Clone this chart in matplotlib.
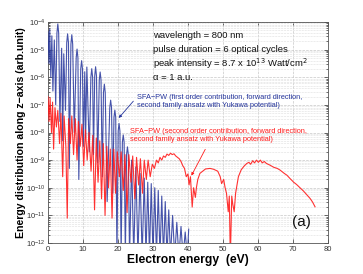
import numpy as np
import matplotlib
matplotlib.use("Agg")
import matplotlib.pyplot as plt
from matplotlib.ticker import LogLocator, MultipleLocator, NullFormatter, FixedLocator

blue_e = [0.0, 0.3, 0.5, 0.8, 1.1, 1.4, 1.8, 2.2, 2.55, 2.8, 3.05, 3.4, 3.9, 4.2,
          4.5, 5.0, 5.35, 5.6, 5.85, 6.1, 6.55, 6.8, 7.05, 7.5, 8.05, 8.3, 8.55,
          8.8, 9.35, 9.6, 9.85, 10.1, 10.5, 10.75, 11.1, 11.8, 12.25, 12.5, 12.75,
          13.0, 13.35, 13.6, 13.85, 14.2, 14.65, 14.9, 15.15, 15.5, 15.85, 16.1,
          16.35, 16.9, 17.65, 17.9, 18.15, 18.5, 18.85, 19.1, 19.35, 19.7, 20.05,
          20.3, 20.55, 20.9, 21.25, 21.5, 21.75, 22.1, 22.45, 22.7, 22.95, 23.3,
          23.9, 24.5, 25.1, 25.7, 26.3, 26.9, 27.5, 28.0, 28.5, 29.0, 29.5, 30.0,
          30.5, 31.0, 31.5, 32.0, 32.5, 33.0, 33.5, 34.0, 34.5, 35.0, 35.6, 36.2,
          36.8, 37.4, 38.0, 38.6, 39.2, 39.8, 40.2]
blue_log = [-4.35, -5.5, -4.25, -6.0, -4.5, -6.5, -4.65, -7.0, -4.4, -4.07, -4.4,
            -7.6, -4.95, -8.3, -5.15, -7.2, -4.75, -4.43, -4.75, -9.3, -4.8, -4.46,
            -4.8, -8.0, -5.3, -4.98, -5.3, -9.7, -5.7, -5.4, -5.7, -8.5, -5.8, -8.2,
            -5.63, -8.7, -6.0, -5.69, -6.0, -8.8, -5.95, -5.62, -5.95, -9.1, -6.1,
            -5.81, -6.1, -9.6, -6.55, -6.25, -6.55, -10.5, -7.1, -6.83, -7.1, -10.2,
            -7.45, -7.19, -7.45, -12.5, -7.95, -7.67, -7.95, -12.5, -8.35, -8.09,
            -8.35, -12.5, -8.8, -8.52, -8.8, -12.5, -9.0, -12.5, -9.25, -12.5,
            -9.48, -12.5, -9.65, -12.5, -9.8, -12.5, -9.85, -12.5, -10.0, -12.5,
            -10.1, -12.5, -10.3, -12.5, -10.5, -12.5, -10.8, -12.5, -11.0, -12.5,
            -11.25, -12.5, -11.4, -12.5, -11.6, -12.5, -11.5]

# second order (red)
red_e = [0.0, 0.3, 0.6, 1.0, 1.3, 1.6, 2.0, 2.4, 2.8, 3.3, 3.7, 4.2, 4.6, 5.1,
         5.5, 5.9, 6.4, 6.8, 7.3, 7.8, 8.3, 8.7, 9.2, 9.7, 10.2, 10.7, 11.2, 11.7,
         12.3, 12.8, 13.3, 13.8, 14.3, 14.8, 15.3, 15.8, 16.3, 16.8, 17.3, 17.8,
         18.3, 18.8, 19.3, 19.8, 20.4, 20.9, 21.5, 22.0, 22.6, 23.1, 23.7, 24.2,
         24.8, 25.3, 25.9, 26.4, 27.0, 27.5, 28.1, 28.6, 29.2, 29.8, 30.4, 31.0,
         31.5, 32.0, 32.5, 33.0, 33.5, 34.0, 34.5, 35.0, 35.5, 36.0, 36.5, 37.0,
         37.5, 38.0, 38.5, 39.0, 39.5, 40.0, 40.3, 40.7, 41.2, 41.6, 42.1, 42.4,
         42.8, 43.4, 44.2, 45.0, 46.3, 47.3, 48.5, 49.2, 49.6, 50.2, 50.6, 51.0,
         51.5, 51.8, 52.1, 52.5, 52.8, 53.2, 53.6, 54.4, 55.2, 56.0, 56.8, 57.4,
         57.9, 58.5, 59.0, 59.6, 60.1, 60.7, 61.2, 61.8, 62.4, 63.4, 64.5, 65.5,
         66.3, 67.5, 68.3, 69.1, 70.2, 71.0, 72.0, 73.0, 73.9, 74.9, 75.6, 76.3]
red_log = [-6.7, -7.6, -6.75, -8.0, -6.9, -8.6, -7.1, -7.8, -7.2, -8.4, -7.3, -9.6,
           -7.4, -8.5, -11.1, -7.5, -8.4, -7.4, -8.8, -7.5, -9.0, -7.6, -8.5, -7.7,
           -9.2, -7.9, -9.0, -8.0, -9.4, -8.1, -10.8, -8.2, -9.8, -8.3, -10.4, -8.4,
           -11.0, -8.5, -10.0, -8.6, -11.1, -8.6, -10.2, -8.7, -9.6, -8.7, -10.1,
           -8.8, -10.9, -8.8, -9.8, -8.85, -10.4, -8.9, -9.9, -8.95, -10.2, -9.0,
           -9.7, -9.0, -9.6, -9.15, -9.3, -9.0, -9.1, -8.9, -9.0, -8.85, -8.9,
           -8.78, -8.83, -8.75, -8.8, -8.77, -8.85, -8.9, -8.95, -9.05, -9.2,
           -9.3, -9.6, -9.5, -9.9, -9.6, -10.7, -10.0, -10.35, -10.0, -9.7, -9.48,
           -9.4, -9.32, -9.3, -9.33, -9.4, -9.6, -9.85, -9.7, -10.0, -10.2,
           -10.87, -10.3, -12.6, -10.3, -10.6, -10.87, -10.2, -9.6, -9.35, -9.22,
           -9.12, -9.08, -9.15, -9.02, -9.1, -9.0, -9.08, -9.0, -9.1, -9.05,
           -9.12, -9.18, -9.26, -9.3, -9.36, -9.48, -9.55, -9.66, -9.8, -9.88,
           -10.0, -10.12, -10.25, -10.39, -10.52, -10.69]

y_decades = [-12, -11, -10, -9, -8, -7, -6, -5, -4]

blue_col = "#25359c"
red_col = "#ff1c1c"

plt.rcParams["font.family"] = ["Liberation Sans", "DejaVu Sans"]

fig = plt.figure(figsize=(3.63, 2.74), dpi=100)
ax = fig.add_axes([48 / 363, 1 - 243 / 274, 280 / 363, 221 / 274])

ax.plot(blue_e, 10 ** np.array(blue_log), color=blue_col, lw=0.8, alpha=0.85, zorder=3)
ax.plot(red_e, 10 ** np.array(red_log), color=red_col, lw=0.8, alpha=0.9, zorder=4)

ax.set_yscale("log")
ax.set_xlim(0, 80)
ax.set_ylim(1e-12, 1e-4)
ax.xaxis.set_major_locator(MultipleLocator(10))
ax.yaxis.set_major_locator(FixedLocator([10.0 ** d for d in y_decades]))
ax.yaxis.set_minor_locator(LogLocator(base=10, subs=np.arange(2, 10), numticks=20))
ax.yaxis.set_minor_formatter(NullFormatter())

ax.grid(True, which="major", color="#c8c8c8", ls="--", lw=0.5)
ax.grid(True, which="minor", axis="y", color="#dddddd", ls="--", lw=0.4)
ax.tick_params(which="both", direction="in", top=True, right=True,
               labelsize=5.5, width=0.5, colors="#333333", pad=2)
ax.tick_params(which="major", length=3)
ax.tick_params(which="minor", length=1.5)
for sp in ax.spines.values():
    sp.set_linewidth(0.6)
    sp.set_color("#555555")

ax.set_xlabel("Electron energy  (eV)", fontsize=8.7, fontweight="bold", labelpad=1)
ax.set_ylabel("Energy distribution along z\u2212axis (arb.unit)", fontsize=7.6,
              fontweight="bold")
ax.yaxis.set_label_coords(-0.078, 0.5)

info = ["wavelength = 800 nm",
        "pulse duration = 6 optical cycles",
        "peak intensity = 8.7 x 10$^{13}$ Watt/cm$^2$",
        "\u03b1 = 1 a.u."]
for i, s in enumerate(info):
    ax.text(0.375, 1 - (36 + 14 * i - 22) / 221, s, transform=ax.transAxes,
            fontsize=6.8, va="center", ha="left", color="#111111")

ax.text(25.3, 10 ** -6.88,
        "SFA\u2212PW (first order contribution, forward direction,\n"
        "second family ansatz with Yukawa potential)",
        fontsize=5.3, color=blue_col, va="center", ha="left", linespacing=1.15)
ax.annotate("", xy=(19.7, 10 ** -7.55), xytext=(24.9, 10 ** -6.79),
            arrowprops=dict(arrowstyle="-|>", color=blue_col, lw=0.6,
                            mutation_scale=4))

ax.text(23.4, 10 ** -8.1,
        "SFA\u2212PW (second order contribution, forward direction,\n"
        "second family ansatz with Yukawa potential)",
        fontsize=5.3, color=red_col, va="center", ha="left", linespacing=1.2)
ax.annotate("", xy=(40.6, 10 ** -9.65), xytext=(45.3, 10 ** -8.52),
            arrowprops=dict(arrowstyle="-|>", color=red_col, lw=0.6,
                            mutation_scale=4))

ax.text(0.905, 1 - (222 - 22) / 221, "(a)", transform=ax.transAxes,
        fontsize=11, ha="center", va="center", color="#111111")

fig.savefig("out.png", dpi=100)
